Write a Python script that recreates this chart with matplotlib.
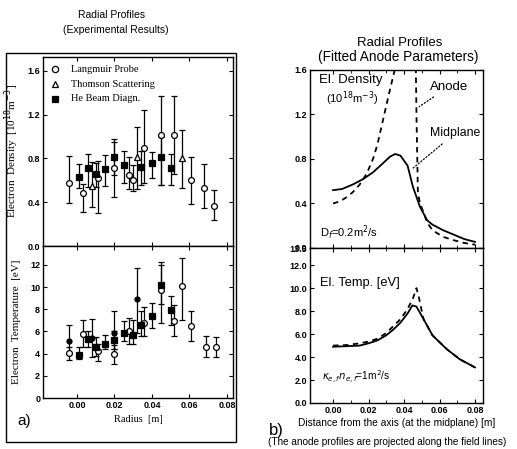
import matplotlib
matplotlib.use("Agg")
import matplotlib.pyplot as plt
import numpy as np

# ---------------- data: left panel (experimental) ----------------
dens_lp_r = [-0.004, 0.003, 0.011, 0.020, 0.028, 0.030, 0.036, 0.045, 0.052, 0.061, 0.068, 0.073]
dens_lp_n = [0.58, 0.48, 0.62, 0.71, 0.65, 0.60, 0.90, 1.01, 1.01, 0.60, 0.53, 0.37]
dens_lp_lo = [0.39, 0.31, 0.30, 0.45, 0.52, 0.50, 0.58, 0.56, 0.66, 0.38, 0.35, 0.24]
dens_lp_hi = [0.82, 0.57, 0.78, 0.98, 0.81, 0.74, 1.24, 1.37, 1.37, 0.81, 0.75, 0.51]

dens_ts_r = [0.008, 0.032, 0.056]
dens_ts_n = [0.55, 0.81, 0.80]
dens_ts_lo = [0.36, 0.52, 0.53]
dens_ts_hi = [0.77, 1.09, 1.06]

dens_hb_r = [0.001, 0.006, 0.010, 0.015, 0.020, 0.025, 0.034, 0.040, 0.045, 0.050]
dens_hb_n = [0.63, 0.71, 0.66, 0.70, 0.81, 0.74, 0.72, 0.76, 0.81, 0.71]
dens_hb_lo = [0.53, 0.54, 0.54, 0.55, 0.65, 0.58, 0.56, 0.62, 0.56, 0.56]
dens_hb_hi = [0.75, 0.84, 0.76, 0.83, 0.95, 0.87, 0.87, 0.86, 1.00, 0.84]

temp_lp_r = [-0.004, 0.003, 0.011, 0.020, 0.028, 0.036, 0.045, 0.052, 0.056, 0.061, 0.069, 0.074]
temp_lp_t = [4.1, 5.8, 4.2, 4.0, 6.0, 6.8, 9.7, 6.9, 10.1, 6.5, 4.6, 4.6]
temp_lp_lo = [3.4, 4.6, 3.3, 3.1, 4.9, 5.6, 6.8, 5.6, 7.0, 5.1, 3.7, 3.7]
temp_lp_hi = [4.6, 7.0, 4.9, 4.8, 7.2, 8.2, 12.0, 8.4, 12.6, 7.8, 5.6, 5.5]

temp_ts_r = [-0.004, 0.008, 0.020, 0.032]
temp_ts_t = [5.1, 5.4, 5.9, 8.9]
temp_ts_lo = [4.0, 3.7, 4.4, 5.9]
temp_ts_hi = [6.6, 7.1, 7.8, 11.7]

temp_hb_r = [0.001, 0.006, 0.010, 0.015, 0.020, 0.025, 0.030, 0.034, 0.040, 0.045, 0.050]
temp_hb_t = [3.9, 5.3, 4.6, 4.9, 5.2, 5.9, 5.7, 6.6, 7.4, 10.2, 7.9]
temp_hb_lo = [3.5, 4.6, 3.8, 4.4, 4.4, 5.1, 4.9, 5.6, 6.3, 8.5, 6.6]
temp_hb_hi = [4.6, 6.0, 5.5, 5.7, 6.0, 6.9, 7.0, 7.8, 8.6, 12.3, 9.2]

# ---------------- data: right panel (fitted) ----------------
fit_n_mid_r = [0.000, 0.005, 0.011, 0.017, 0.0225, 0.028, 0.032, 0.035, 0.038, 0.042, 0.045, 0.049, 0.053, 0.056, 0.062, 0.068, 0.074, 0.080]
fit_n_mid_v = [0.52, 0.53, 0.57, 0.62, 0.68, 0.76, 0.82, 0.845, 0.83, 0.74, 0.55, 0.37, 0.25, 0.21, 0.16, 0.12, 0.08, 0.055]

fit_n_an1_r = [0.000, 0.004, 0.007, 0.011, 0.015, 0.019, 0.0225, 0.025, 0.028, 0.031, 0.035, 0.037]
fit_n_an1_v = [0.40, 0.42, 0.45, 0.50, 0.57, 0.67, 0.80, 0.93, 1.14, 1.35, 1.62, 1.80]
fit_n_an2_r = [0.0465, 0.0470, 0.0478, 0.0490, 0.051, 0.053, 0.056, 0.062, 0.068, 0.074, 0.080]
fit_n_an2_v = [1.80, 1.20, 0.50, 0.40, 0.32, 0.23, 0.16, 0.10, 0.07, 0.045, 0.03]

fit_t_mid_r = [0.000, 0.008, 0.015, 0.020, 0.025, 0.030, 0.034, 0.038, 0.042, 0.0447, 0.047, 0.051, 0.056, 0.064, 0.0715, 0.080]
fit_t_mid_v = [4.9, 4.95, 5.0, 5.2, 5.45, 5.9, 6.4, 7.0, 7.8, 8.5, 8.4, 7.3, 5.9, 4.7, 3.8, 3.1]
fit_t_an_r = [0.000, 0.008, 0.015, 0.020, 0.025, 0.030, 0.034, 0.038, 0.042, 0.045, 0.047, 0.0485, 0.050, 0.051, 0.056, 0.064, 0.0715, 0.080]
fit_t_an_v = [5.0, 5.05, 5.2, 5.35, 5.6, 6.1, 6.7, 7.3, 8.2, 9.1, 10.0, 9.1, 8.0, 7.3, 5.9, 4.7, 3.8, 3.1]

left_xticks = [0.00, 0.02, 0.04, 0.06, 0.08]
dens_yticks = [0.0, 0.4, 0.8, 1.2, 1.6]
temp_yticks_left = [0, 2, 4, 6, 8, 10, 12]
temp_yticks_right = [0.0, 2.0, 4.0, 6.0, 8.0, 10.0, 12.0, 13.5]

W, H = 517, 449
fig = plt.figure(figsize=(W / 100, H / 100), dpi=100)

SANS = "Liberation Sans"
SERIF = "Liberation Serif"

def px_axes(x0, y0, x1, y1):
    return fig.add_axes([x0 / W, 1 - y1 / H, (x1 - x0) / W, (y1 - y0) / H])

def style(ax, fs=6.5):
    ax.tick_params(direction="in", top=True, right=True, length=3, width=0.8,
                   labelsize=fs, pad=2)
    for lab in ax.get_xticklabels() + ax.get_yticklabels():
        lab.set_fontfamily(SANS)
        lab.set_fontweight("bold")
    for s in ax.spines.values():
        s.set_linewidth(1.0)

def err(ax, r, v, lo, hi, marker, mfc, ms):
    v = np.array(v); lo = np.array(lo); hi = np.array(hi)
    ax.errorbar(r, v, yerr=[v - lo, hi - v], fmt=marker, mfc=mfc, mec="black",
                ms=ms, mew=0.9, ecolor="black", elinewidth=0.9, capsize=2.2,
                capthick=0.9, color="black", zorder=3)

# ---------------- left panel ----------------
fig.add_artist(plt.Rectangle((6 / W, 1 - 442 / H), (236 - 6) / W, (442 - 53) / H,
                             transform=fig.transFigure, fill=False, lw=1.0, color="black"))

axL1 = px_axes(43, 57, 233, 246)
axL2 = px_axes(43, 246, 233, 398)
for ax in (axL1, axL2):
    ax.set_xlim(-0.0181, 0.0832)
    ax.set_xticks(left_xticks)

err(axL1, dens_lp_r, dens_lp_n, dens_lp_lo, dens_lp_hi, "o", "white", 4.2)
err(axL1, dens_ts_r, dens_ts_n, dens_ts_lo, dens_ts_hi, "^", "white", 4.5)
err(axL1, dens_hb_r, dens_hb_n, dens_hb_lo, dens_hb_hi, "s", "black", 3.8)
axL1.set_ylim(0, 1.727)
axL1.set_yticks(dens_yticks)
axL1.set_yticklabels(["%.1f" % t for t in dens_yticks])
axL1.set_xticklabels([])
style(axL1)
axL1.set_ylabel(r"Electron  Density  [10$^{18}$m$^{-3}$]", family=SERIF, fontsize=8)

leg_items = [("o", "white", "Langmuir Probe"), ("^", "white", "Thomson Scattering"),
             ("s", "black", "He Beam Diagn.")]
for i, (m, fc, lab) in enumerate(leg_items):
    yy = 0.935 - i * 0.078
    axL1.plot([0.065], [yy], marker=m, mfc=fc, mec="black", ms=4.5, mew=0.9,
              transform=axL1.transAxes, clip_on=False)
    axL1.text(0.145, yy, lab, transform=axL1.transAxes, family=SERIF,
              fontsize=7.5, va="center", ha="left")

err(axL2, temp_lp_r, temp_lp_t, temp_lp_lo, temp_lp_hi, "o", "white", 4.2)
err(axL2, temp_ts_r, temp_ts_t, temp_ts_lo, temp_ts_hi, "o", "black", 3.6)
err(axL2, temp_hb_r, temp_hb_t, temp_hb_lo, temp_hb_hi, "s", "black", 3.8)
axL2.set_ylim(0, 13.7)
axL2.set_yticks(temp_yticks_left)
axL2.set_xticklabels(["%.2f" % t for t in left_xticks])
style(axL2)
axL2.set_ylabel("Electron  Temperature  [eV]", family=SERIF, fontsize=8)
axL2.set_xlabel("Radius  [m]", family=SERIF, fontsize=7.5, labelpad=4)
axL1.yaxis.set_label_coords(-0.115, 0.5)
axL2.yaxis.set_label_coords(-0.115, 0.5)

fig.text(112 / W, 1 - 15 / H, "Radial Profiles", family=SANS, fontsize=7.5,
         ha="center", va="center")
fig.text(116 / W, 1 - 30 / H, "(Experimental Results)", family=SANS, fontsize=7.5,
         ha="center", va="center")
fig.text(24 / W, 1 - 421 / H, "a)", family=SANS, fontsize=11, ha="center", va="center")

# ---------------- right panel ----------------
axR1 = px_axes(310, 70, 483, 248)
axR2 = px_axes(310, 248, 483, 403)
for ax in (axR1, axR2):
    ax.set_xlim(-0.013, 0.0845)
    ax.set_xticks(left_xticks)
    ax.set_xticks([0.01, 0.03, 0.05, 0.07], minor=True)

axR1.plot(fit_n_mid_r, fit_n_mid_v, color="black", lw=1.3)
axR1.plot(fit_n_an1_r, fit_n_an1_v, color="black", lw=1.3, ls=(0, (3, 2.5)))
axR1.plot(fit_n_an2_r, fit_n_an2_v, color="black", lw=1.3, ls=(0, (3, 2.5)))
axR1.set_ylim(0, 1.6)
axR1.set_yticks(dens_yticks)
axR1.set_yticklabels(["%.1f" % t for t in dens_yticks])
axR1.set_xticklabels([])
style(axR1)
axR1.tick_params(which="minor", direction="in", top=True, length=2)
axR1.text(0.052, 0.945, "El. Density", transform=axR1.transAxes, family=SANS,
          fontsize=9.5, va="center")
axR1.text(0.095, 0.84, r"(10$^{18}$m$^{-3}$)", transform=axR1.transAxes, family=SANS,
          fontsize=8, va="center")
axR1.text(0.058, 0.085, r"D$_{f}$=0.2m$^{2}$/s", transform=axR1.transAxes, family=SANS,
          fontsize=8, va="center")
axR1.annotate("Anode", xy=(0.0485, 1.27), xytext=(0.0545, 1.45), family=SANS,
              fontsize=9.5, va="center",
              arrowprops=dict(arrowstyle="-", ls=":", lw=0.9, color="black",
                              shrinkA=2, shrinkB=0))
axR1.annotate("Midplane", xy=(0.0445, 0.71), xytext=(0.0545, 1.03), family=SANS,
              fontsize=8.8, va="center",
              arrowprops=dict(arrowstyle="-", ls=":", lw=0.9, color="black",
                              shrinkA=2, shrinkB=0))

axR2.plot(fit_t_mid_r, fit_t_mid_v, color="black", lw=1.3)
axR2.plot(fit_t_an_r, fit_t_an_v, color="black", lw=1.3, ls=(0, (3, 2.5)))
axR2.set_ylim(0, 13.5)
axR2.set_yticks(temp_yticks_right)
axR2.set_yticklabels(["%.1f" % t for t in temp_yticks_right])
axR2.set_xticklabels(["%.2f" % t for t in left_xticks])
style(axR2)
axR2.tick_params(which="minor", direction="in", top=True, length=2)
axR2.text(0.058, 0.774, "El. Temp. [eV]", transform=axR2.transAxes, family=SANS,
          fontsize=9.3, va="center")
axR2.text(0.07, 0.168, r"$\kappa_{e,f}n_{e,f}$=1m$^{2}$/s", transform=axR2.transAxes,
          family=SANS, fontsize=7.3, va="center")
axR2.set_xlabel("Distance from the axis (at the midplane) [m]", family=SANS,
                fontsize=7.3, labelpad=2)

fig.text(400 / W, 1 - 43 / H, "Radial Profiles", family=SANS, fontsize=9.5,
         ha="center", va="center")
fig.text(398 / W, 1 - 57 / H, "(Fitted Anode Parameters)", family=SANS, fontsize=9.8,
         ha="center", va="center")
fig.text(276 / W, 1 - 430 / H, "b)", family=SANS, fontsize=12, ha="center", va="center")
fig.text(268 / W, 1 - 442 / H, "(The anode profiles are projected along the field lines)",
         family=SANS, fontsize=7.2, ha="left", va="center")

fig.savefig("out.png", dpi=100)
